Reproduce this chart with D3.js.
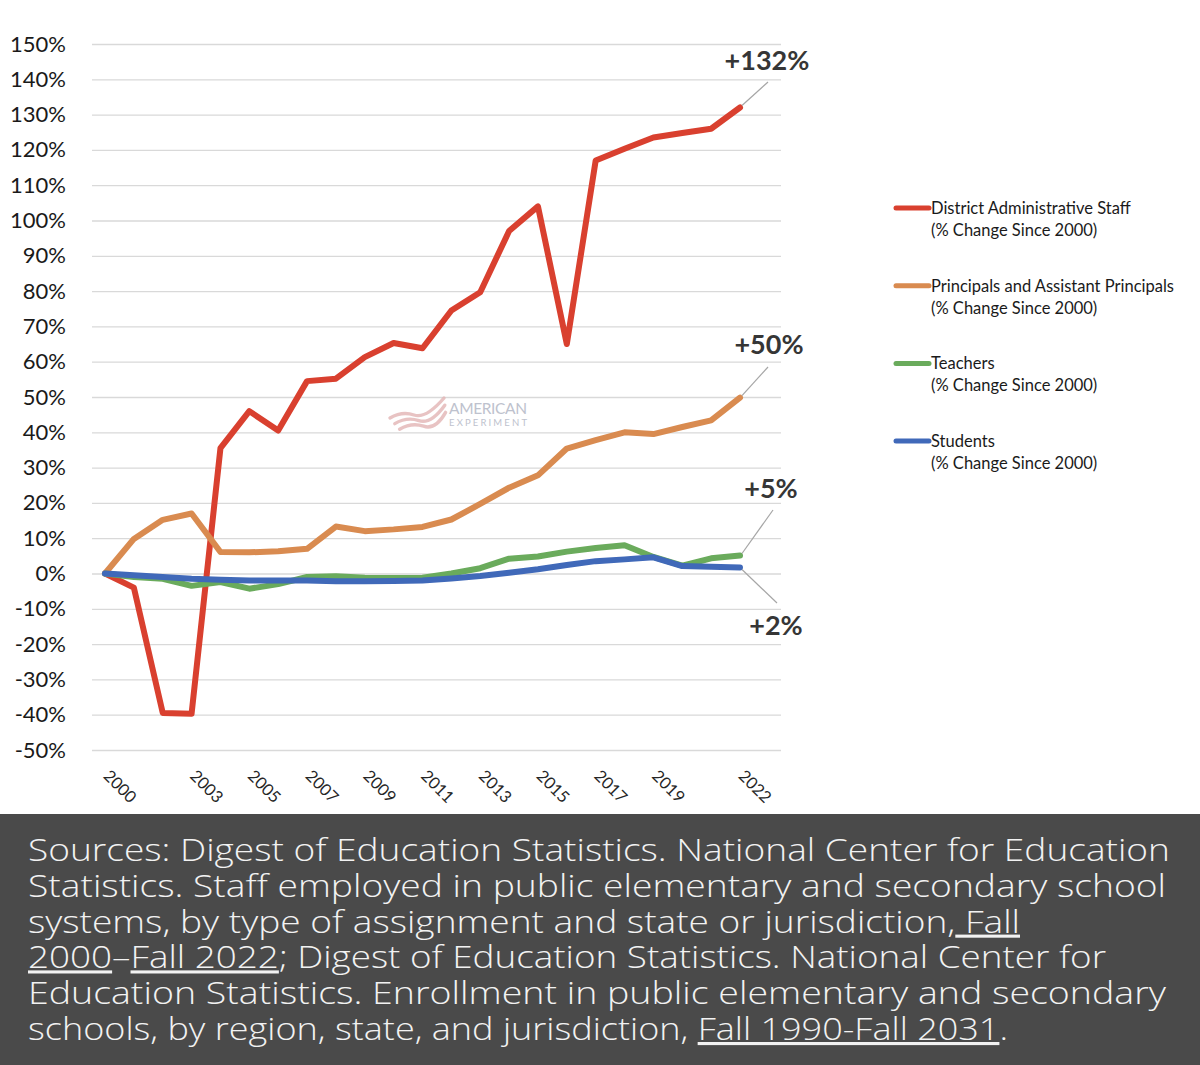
<html>
<head>
<meta charset="utf-8">
<script src="https://cdnjs.cloudflare.com/ajax/libs/d3/7.8.5/d3.min.js"></script>
<style>
  body { margin: 0; background: #ffffff; }
  text { font-family: Lato, "Open Sans", sans-serif; }
</style>
</head>
<body>
<div id="chartContainer"></div>
<script type="text/javascript">
  // ---- data (% change since 2000) ----
  var years = [2000, 2001, 2002, 2003, 2004, 2005, 2006, 2007, 2008, 2009, 2010, 2011,
               2012, 2013, 2014, 2015, 2016, 2017, 2018, 2019, 2020, 2021, 2022];
  var adminStaff = [0, -4, -39.5, -39.7, 35.5, 46, 40.5, 54.5, 55.2, 61.3, 65.3, 63.8,
                    74.5, 79.7, 97, 104, 65, 117, 120.3, 123.5, 124.8, 126, 132];
  var principals = [0, 9.8, 15.2, 17, 6.1, 6, 6.3, 7, 13.3, 12, 12.5, 13.2,
                    15.3, 19.7, 24.3, 27.8, 35.4, 37.8, 40, 39.5, 41.5, 43.4, 49.8];
  var teachers = [0, -1, -1.5, -3.5, -2.4, -4.3, -3, -1, -0.8, -1.2, -1.3, -1.2,
                  0, 1.5, 4.2, 4.8, 6.2, 7.2, 8, 4.7, 2.2, 4.3, 5.1];
  var students = [0, -0.5, -1, -1.5, -1.8, -2, -2, -2, -2.2, -2.2, -2.1, -2,
                  -1.4, -0.7, 0.2, 1.2, 2.4, 3.5, 4, 4.6, 2.1, 1.9, 1.7];

  var yTicks = [-50, -40, -30, -20, -10, 0, 10, 20, 30, 40, 50, 60, 70, 80, 90,
                100, 110, 120, 130, 140, 150];
  var xTickYears = [2000, 2003, 2005, 2007, 2009, 2011, 2013, 2015, 2017, 2019, 2022];

  var seriesNames = ["District Administrative Staff", "Principals and Assistant Principals",
                     "Teachers", "Students"];
  var seriesValues = [adminStaff, principals, teachers, students];
  var seriesColors = ["#d9402f", "#d98b50", "#6aab5c", "#4069b9"];
  var endLabels = ["+132%", "+50%", "+5%", "+2%"];

  var svg = d3.select("#chartContainer").append("svg")
      .attr("width", 1200)
      .attr("height", 1065);

  svg.append("rect")
      .attr("width", 1200).attr("height", 1065)
      .style("fill", "#ffffff");

  var x = d3.scaleLinear().domain([2000, 2022]).range([105, 740]);
  var y = d3.scaleLinear().domain([-50, 150]).range([750, 44]);

  // Gridlines + y tick labels
  var yAxis = svg.append("g")
      .attr("transform", "translate(92,0)")
      .call(d3.axisLeft(y)
          .tickValues(yTicks)
          .tickSize(-689)
          .tickPadding(26)
          .tickFormat(function (d) { return d + "%"; }));
  yAxis.select(".domain").remove();
  yAxis.selectAll("line")
      .style("stroke", "#d9d9d9")
      .style("stroke-width", 1.3);
  yAxis.selectAll("text")
      .style("font-family", "Lato, sans-serif")
      .style("font-size", "22px")
      .style("fill", "#1a1a1a");

  // x axis labels, rotated
  var xAxis = svg.append("g")
      .attr("transform", "translate(0,750)")
      .call(d3.axisBottom(x)
          .tickValues(xTickYears)
          .tickSize(0)
          .tickFormat(function (d) { return String(d); }));
  xAxis.select(".domain").remove();
  xAxis.selectAll("text")
      .attr("y", 0)
      .attr("dy", 0)
      .attr("transform", "translate(-3,27) rotate(45)")
      .style("text-anchor", "start")
      .style("font-family", "Lato, sans-serif")
      .style("font-size", "16.5px")
      .style("fill", "#262626");

  // Watermark (logo waves + wordmark)
  var wm = svg.append("g").style("opacity", 0.8);
  [0, 8, 16].forEach(function (o) {
    wm.append("path")
        .attr("d", "M" + (390 + o * 0.6) + "," + (418 + o * 0.7) +
              " q12,-7 24,-3 t" + (30 - o * 0.5) + ",-" + (17 - o * 0.2))
        .style("fill", "none")
        .style("stroke", "#e3b5b5")
        .style("stroke-width", 3.4)
        .style("stroke-linecap", "round");
  });
  wm.append("text")
      .attr("x", 449).attr("y", 414)
      .style("font-size", "15.5px")
      .style("fill", "#aeb3c2")
      .attr("textLength", 78)
      .text("AMERICAN");
  wm.append("text")
      .attr("x", 449).attr("y", 425.5)
      .style("font-size", "9.5px")
      .style("fill", "#aeb3c2")
      .attr("textLength", 78)
      .text("EXPERIMENT");

  // Lines
  var line = d3.line()
      .x(function (d, i) { return x(years[i]); })
      .y(function (d) { return y(d); });

  svg.selectAll("path.series")
      .data(seriesValues)
      .enter()
      .append("path")
      .attr("class", "series")
      .attr("d", line)
      .style("fill", "none")
      .style("stroke", function (d, i) { return seriesColors[i]; })
      .style("stroke-width", 6)
      .style("stroke-linejoin", "round")
      .style("stroke-linecap", "round");

  // End labels with leader lines
  var labelPos = [
    { lx: 768, ly: 82, tx: 767, ty: 70 },
    { lx: 768, ly: 367, tx: 769, ty: 354 },
    { lx: 773, ly: 510, tx: 771, ty: 498 },
    { lx: 777, ly: 603, tx: 776, ty: 635 }
  ];
  seriesValues.forEach(function (vals, i) {
    var last = vals.length - 1;
    svg.append("line")
        .attr("x1", x(years[last]) + 2)
        .attr("y1", y(vals[last]) + (i === 3 ? 2 : -2))
        .attr("x2", labelPos[i].lx)
        .attr("y2", labelPos[i].ly)
        .style("stroke", "#a6a6a6")
        .style("stroke-width", 1.2);
    svg.append("text")
        .attr("x", labelPos[i].tx)
        .attr("y", labelPos[i].ty)
        .style("text-anchor", "middle")
        .style("font-size", "27px")
        .style("font-weight", "bold")
        .style("fill", "#363636")
        .text(endLabels[i]);
  });

  // Legend
  var legend = svg.selectAll("g.legend")
      .data(seriesNames)
      .enter()
      .append("g")
      .attr("class", "legend")
      .attr("transform", function (d, i) { return "translate(0," + (208 + i * 77.7) + ")"; });
  legend.append("line")
      .attr("x1", 896).attr("x2", 929)
      .attr("y1", 0).attr("y2", 0)
      .style("stroke", function (d, i) { return seriesColors[i]; })
      .style("stroke-width", 5)
      .style("stroke-linecap", "round");
  legend.append("text")
      .attr("x", 931).attr("y", 6)
      .style("font-size", "16.5px")
      .style("fill", "#1a1a1a")
      .text(function (d) { return d; });
  legend.append("text")
      .attr("x", 931).attr("y", 28)
      .style("font-size", "16.5px")
      .style("fill", "#1a1a1a")
      .text("(% Change Since 2000)");

  // Footer: sources
  svg.append("rect")
      .attr("x", 0).attr("y", 814)
      .attr("width", 1200).attr("height", 251)
      .style("fill", "#4a4a4a");

  var footerLines = [
    { w: 1142, parts: [["Sources: Digest of Education Statistics. National Center for Education", false]] },
    { w: 1138, parts: [["Statistics. Staff employed in public elementary and secondary school", false]] },
    { w: 992, parts: [["systems, by type of assignment and state or jurisdiction,", false], [" Fall", true]] },
    { w: 1078, parts: [["2000", true], ["\u2013", false], ["Fall 2022", true],
                       ["; Digest of Education Statistics. National Center for", false]] },
    { w: 1138, parts: [["Education Statistics. Enrollment in public elementary and secondary", false]] },
    { w: 980, parts: [["schools, by region, state, and jurisdiction, ", false],
                      ["Fall 1990-Fall 2031", true], [".", false]] }
  ];
  footerLines.forEach(function (ln, i) {
    var t = svg.append("text")
        .attr("x", 28)
        .attr("y", 861 + i * 35.8)
        .attr("textLength", ln.w)
        .attr("lengthAdjust", "spacingAndGlyphs")
        .style("font-family", "'Open Sans', sans-serif")
        .style("font-weight", 300)
        .style("font-size", "31px")
        .style("fill", "#f2f2f2");
    ln.parts.forEach(function (p) {
      t.append("tspan")
          .style("text-decoration", p[1] ? "underline" : "none")
          .text(p[0]);
    });
  });
</script>
</body>
</html>
